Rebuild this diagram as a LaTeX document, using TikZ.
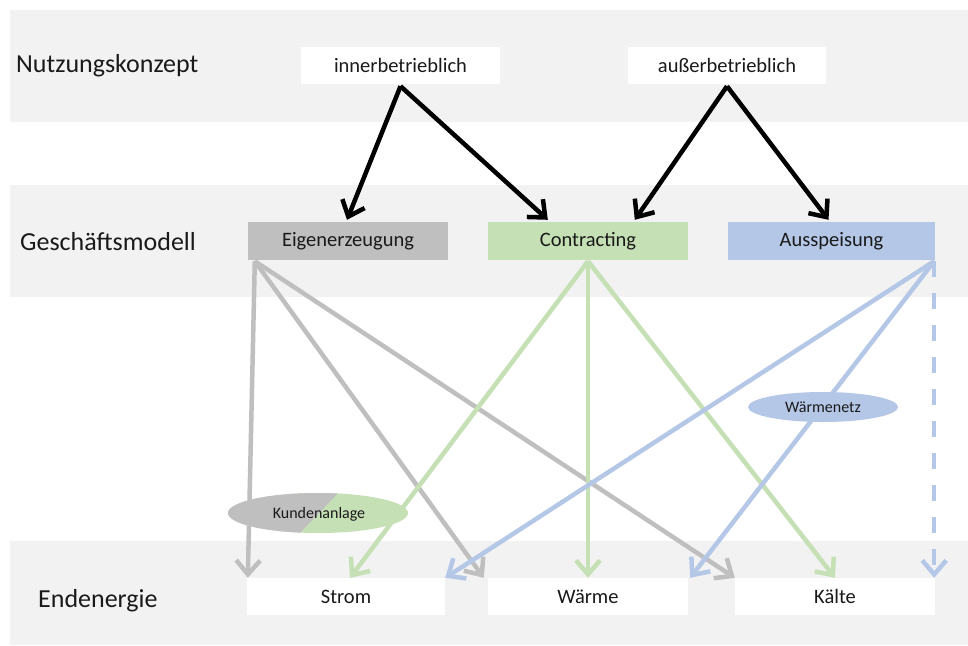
\documentclass[tikz,border=0pt]{standalone}
\usepackage{fontspec}
\setmainfont{Carlito}
\usetikzlibrary{arrows.meta,calc,shapes.geometric}
\definecolor{band}{HTML}{F2F2F2}
\definecolor{cgray}{HTML}{BFBFBF}
\definecolor{cgreen}{HTML}{C5E0B4}
\definecolor{cblue}{HTML}{B4C7E7}
\definecolor{txt}{HTML}{1A1A1A}
\begin{document}
\begin{tikzpicture}[x=1pt,y=-1pt,
  box/.style={rectangle,inner sep=0pt,minimum width=200pt,minimum height=38pt,font=\fontsize{20.5}{22}\selectfont,text=txt},
  rowlabel/.style={anchor=west,inner sep=0pt,font=\fontsize{26}{28}\selectfont,text=txt},
  conn/.style={line width=4.5pt,-{Straight Barb[length=14pt,width=24pt]}},
  blk/.style={conn,black},
  gr/.style={conn,cgray},
  gn/.style={conn,cgreen},
  bl/.style={conn,cblue},
  ell/.style={ellipse,inner sep=0pt,font=\fontsize{16}{18}\selectfont,text=txt}]
\useasboundingbox (0,0) rectangle (968,645);
\fill[white] (0,0) rectangle (968,645);
% bands
\fill[band] (10,10) rectangle (968,122);
\fill[band] (10,185) rectangle (968,297);
\fill[band] (10,541) rectangle (968,645);
% row labels
\node[rowlabel] (l1) at (16,66) {Nutzungskonzept};
\node[rowlabel] (l2) at (20,242) {Geschäftsmodell};
\node[rowlabel] (l3) at (38,601) {Endenergie};
% boxes
\node[box,fill=white,minimum width=199pt,minimum height=37pt] (inner) at (400.5,65.5) {innerbetrieblich};
\node[box,fill=white,minimum width=198pt,minimum height=37pt] (ausser) at (727,65.5) {außerbetrieblich};
\node[box,fill=cgray] (eig) at (348,241) {Eigenerzeugung};
\node[box,fill=cgreen] (con) at (588,241) {Contracting};
\node[box,fill=cblue,minimum width=207pt] (aus) at (831.5,241) {Ausspeisung};
\node[box,fill=white,minimum width=198pt,minimum height=37pt] (strom) at (346,596.5) {Strom};
\node[box,fill=white,minimum height=37pt] (waerme) at (588,596.5) {Wärme};
\node[box,fill=white,minimum height=37pt] (kaelte) at (835,596.5) {Kälte};
% coordinates
\coordinate (is) at ($(inner.south)+(0,2)$);
\coordinate (as) at ($(ausser.south)+(0,2)$);
\coordinate (es) at ($(eig.south west)+(7,1)$);
\coordinate (cs) at ($(con.south)+(0,1)$);
\coordinate (bs) at ($(aus.south east)+(-1,1)$);
% black arrows
\draw[blk] (is) -- ($(eig.north)+(-1,-2)$);
\draw[blk] (is) -- ($(con.north west)+(60,-2)$);
\draw[blk] (as) -- ($(con.north west)+(147,-2)$);
\draw[blk] (as) -- ($(aus.north)+(-3,-2)$);
% gray
\draw[gr] (es) -- ($(strom.north west)+(1,0)$);
\draw[gr] (es) -- ($(waerme.north west)+(-4,0)$);
\draw[gr] (es) -- ($(kaelte.north west)+(0,0)$);
% green
\draw[gn] (cs) -- ($(strom.north)+(4,0)$);
\draw[gn] (cs) -- (waerme.north);
\draw[gn] (cs) -- (kaelte.north);
% blue
\draw[bl] (bs) -- (strom.north east);
\draw[bl] (bs) -- ($(waerme.north east)+(2,0)$);
\draw[bl,dash pattern=on 16pt off 16pt] (bs) -- ($(kaelte.north east)+(-1,0)$);
% ellipses
\begin{scope}
\clip (318,513) ellipse [x radius=90, y radius=20];
\fill[cgreen] (228,493) rectangle (408,533);
\fill[cgray] (220,490) -- (341,490) -- (297,536) -- (220,536) -- cycle;
\end{scope}
\node[ell,minimum width=180pt,minimum height=40pt] (kunde) at (319,514) {Kundenanlage};
\node[ell,fill=cblue,minimum width=150pt,minimum height=30pt] (wnetz) at (823,407) {Wärmenetz};
\end{tikzpicture}
\end{document}
